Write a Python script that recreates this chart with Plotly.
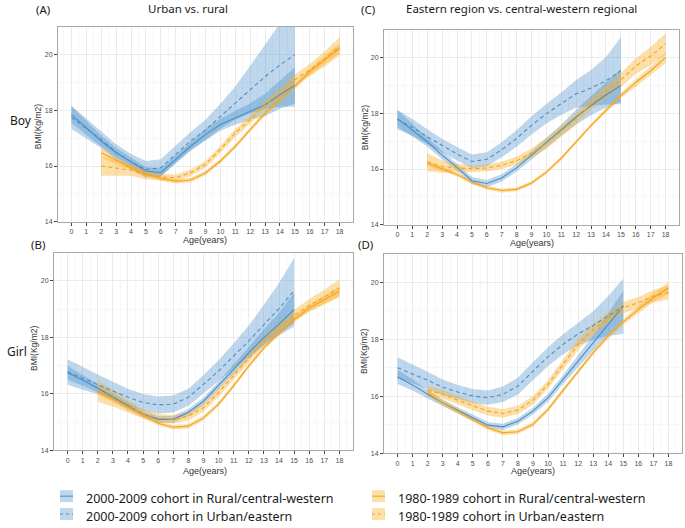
import plotly.graph_objects as go

W, H = 685, 528

ages00 = list(range(0, 16))
ages80 = list(range(2, 19))
x_ticks = list(range(0, 19))
y_ticks = [14, 16, 18, 20]

# Panel A: Boy, urban vs rural
A_rural00 = [17.85, 17.38, 16.9, 16.48, 16.15, 15.82, 15.76, 16.24, 16.71, 17.13, 17.49, 17.73, 17.96, 18.2, 18.56, 18.9]
A_rural00_ci = [0.3, 0.25, 0.2, 0.17, 0.15, 0.15, 0.15, 0.15, 0.17, 0.2, 0.22, 0.25, 0.3, 0.4, 0.5, 0.65]
A_urban00 = [17.75, 17.35, 16.95, 16.5, 16.15, 15.88, 15.94, 16.42, 16.9, 17.3, 17.79, 18.26, 18.74, 19.21, 19.63, 20.0]
A_urban00_ci = [0.42, 0.36, 0.3, 0.28, 0.28, 0.3, 0.3, 0.3, 0.32, 0.36, 0.45, 0.6, 0.85, 1.15, 1.5, 1.87]
A_rural80 = [16.48, 16.2, 15.95, 15.72, 15.55, 15.45, 15.5, 15.75, 16.18, 16.71, 17.31, 17.9, 18.38, 18.86, 19.39, 19.81, 20.23]
A_rural80_ci = [0.18, 0.13, 0.1, 0.08, 0.08, 0.08, 0.08, 0.08, 0.08, 0.08, 0.08, 0.1, 0.1, 0.1, 0.12, 0.15, 0.18]
A_urban80 = [16.0, 15.92, 15.85, 15.68, 15.6, 15.58, 15.76, 16.06, 16.6, 17.19, 17.67, 18.2, 18.62, 19.1, 19.45, 19.85, 20.3]
A_urban80_ci = [0.35, 0.28, 0.2, 0.15, 0.12, 0.12, 0.12, 0.12, 0.13, 0.15, 0.15, 0.15, 0.17, 0.2, 0.22, 0.27, 0.33]

# Panel C: Boy, eastern vs central-western
C_cw00 = [17.81, 17.4, 16.98, 16.5, 16.06, 15.58, 15.48, 15.68, 16.04, 16.5, 16.95, 17.4, 17.87, 18.28, 18.66, 19.0]
C_cw00_ci = [0.3, 0.22, 0.17, 0.15, 0.13, 0.13, 0.13, 0.13, 0.13, 0.15, 0.17, 0.2, 0.27, 0.35, 0.45, 0.6]
C_east00 = [17.78, 17.5, 17.16, 16.84, 16.54, 16.27, 16.35, 16.69, 17.1, 17.57, 17.99, 18.35, 18.7, 18.91, 19.17, 19.53]
C_east00_ci = [0.35, 0.3, 0.27, 0.25, 0.25, 0.25, 0.25, 0.27, 0.3, 0.33, 0.35, 0.4, 0.5, 0.65, 0.85, 1.2]
C_cw80 = [16.21, 16.0, 15.8, 15.53, 15.33, 15.23, 15.27, 15.5, 15.89, 16.39, 16.98, 17.57, 18.11, 18.64, 19.11, 19.53, 20.0]
C_cw80_ci = [0.1, 0.08, 0.07, 0.07, 0.07, 0.07, 0.07, 0.07, 0.07, 0.07, 0.07, 0.08, 0.09, 0.1, 0.12, 0.15, 0.2]
C_east80 = [16.25, 16.09, 16.04, 16.01, 16.04, 16.13, 16.3, 16.57, 16.92, 17.36, 17.81, 18.34, 18.76, 19.2, 19.7, 20.06, 20.5]
C_east80_ci = [0.33, 0.22, 0.15, 0.12, 0.12, 0.13, 0.15, 0.17, 0.2, 0.2, 0.2, 0.2, 0.22, 0.25, 0.28, 0.32, 0.38]

# Panel B: Girl, urban vs rural
B_rural00 = [16.75, 16.49, 16.2, 15.88, 15.58, 15.29, 15.1, 15.1, 15.35, 15.74, 16.29, 16.87, 17.46, 17.99, 18.47, 18.98]
B_rural00_ci = [0.25, 0.2, 0.15, 0.13, 0.12, 0.12, 0.12, 0.12, 0.12, 0.13, 0.15, 0.17, 0.2, 0.3, 0.4, 0.6]
B_urban00 = [16.78, 16.55, 16.34, 16.11, 15.88, 15.7, 15.61, 15.64, 15.88, 16.34, 16.81, 17.34, 17.87, 18.45, 19.02, 19.65]
B_urban00_ci = [0.45, 0.4, 0.35, 0.32, 0.3, 0.3, 0.3, 0.3, 0.3, 0.33, 0.38, 0.45, 0.55, 0.7, 0.9, 1.15]
B_rural80 = [16.11, 15.82, 15.52, 15.23, 14.96, 14.82, 14.86, 15.15, 15.64, 16.29, 16.99, 17.63, 18.16, 18.63, 19.04, 19.33, 19.63]
B_rural80_ci = [0.12, 0.1, 0.08, 0.08, 0.08, 0.08, 0.08, 0.08, 0.08, 0.08, 0.08, 0.08, 0.09, 0.1, 0.12, 0.15, 0.18]
B_urban80 = [16.1, 15.85, 15.55, 15.3, 15.14, 15.1, 15.21, 15.52, 16.05, 16.64, 17.26, 17.87, 18.36, 18.78, 19.13, 19.42, 19.74]
B_urban80_ci = [0.38, 0.3, 0.22, 0.17, 0.15, 0.15, 0.15, 0.15, 0.15, 0.15, 0.15, 0.15, 0.17, 0.2, 0.22, 0.26, 0.32]

# Panel D: Girl, eastern vs central-western
D_cw00 = [16.68, 16.4, 16.07, 15.77, 15.51, 15.25, 14.99, 14.93, 15.13, 15.48, 15.95, 16.59, 17.23, 17.88, 18.52, 19.16]
D_cw00_ci = [0.25, 0.2, 0.15, 0.12, 0.11, 0.11, 0.11, 0.11, 0.11, 0.12, 0.14, 0.16, 0.2, 0.27, 0.38, 0.55]
D_east00 = [17.0, 16.79, 16.56, 16.32, 16.15, 16.01, 15.95, 16.07, 16.36, 16.88, 17.39, 17.82, 18.19, 18.48, 18.81, 19.16]
D_east00_ci = [0.37, 0.33, 0.3, 0.27, 0.25, 0.25, 0.25, 0.27, 0.3, 0.32, 0.33, 0.35, 0.4, 0.5, 0.7, 0.97]
D_cw80 = [16.12, 15.77, 15.48, 15.19, 14.9, 14.72, 14.76, 15.02, 15.54, 16.21, 16.88, 17.53, 18.11, 18.61, 19.04, 19.45, 19.8]
D_cw80_ci = [0.12, 0.1, 0.08, 0.08, 0.08, 0.08, 0.08, 0.08, 0.08, 0.08, 0.08, 0.08, 0.09, 0.1, 0.12, 0.15, 0.2]
D_east80 = [16.22, 16.07, 15.86, 15.66, 15.48, 15.4, 15.52, 15.86, 16.42, 17.12, 17.82, 18.34, 18.75, 19.1, 19.28, 19.51, 19.63]
D_east80_ci = [0.15, 0.15, 0.15, 0.15, 0.15, 0.15, 0.15, 0.15, 0.15, 0.17, 0.2, 0.2, 0.2, 0.2, 0.2, 0.22, 0.25]

legend_labels = [
    "2000-2009 cohort in Rural/central-western",
    "2000-2009 cohort in Urban/eastern",
    "1980-1989 cohort in Rural/central-western",
    "1980-1989 cohort in Urban/eastern",
]
panel_titles = ["Urban vs. rural", "Eastern region vs. central-western regional"]
panel_letters = ["(A)", "(C)", "(B)", "(D)"]
row_labels = ["Boy", "Girl"]

BLUE = "#4A8FC6"
BLUE_FILL = "rgba(70,140,200,0.35)"
ORANGE = "#F5A31A"
ORANGE_FILL = "rgba(250,175,40,0.40)"

FONT_T = "Noto Sans"
FONT_A = "Liberation Sans"

# panel pixel boxes: (left, right, top, bottom)
boxes = {
    "A": (58, 353, 27, 223),
    "C": (384, 679, 30, 226),
    "B": (54, 353, 254, 453),
    "D": (384, 682, 255, 456),
}
axis_ids = {"A": ("x", "y"), "C": ("x2", "y2"), "B": ("x3", "y3"), "D": ("x4", "y4")}

panels = {
    "A": [(ages00, A_rural00, A_rural00_ci, BLUE, BLUE_FILL, "solid"),
          (ages00, A_urban00, A_urban00_ci, BLUE, BLUE_FILL, "dash"),
          (ages80, A_rural80, A_rural80_ci, ORANGE, ORANGE_FILL, "solid"),
          (ages80, A_urban80, A_urban80_ci, ORANGE, ORANGE_FILL, "dash")],
    "C": [(ages00, C_cw00, C_cw00_ci, BLUE, BLUE_FILL, "solid"),
          (ages00, C_east00, C_east00_ci, BLUE, BLUE_FILL, "dash"),
          (ages80, C_cw80, C_cw80_ci, ORANGE, ORANGE_FILL, "solid"),
          (ages80, C_east80, C_east80_ci, ORANGE, ORANGE_FILL, "dash")],
    "B": [(ages00, B_rural00, B_rural00_ci, BLUE, BLUE_FILL, "solid"),
          (ages00, B_urban00, B_urban00_ci, BLUE, BLUE_FILL, "dash"),
          (ages80, B_rural80, B_rural80_ci, ORANGE, ORANGE_FILL, "solid"),
          (ages80, B_urban80, B_urban80_ci, ORANGE, ORANGE_FILL, "dash")],
    "D": [(ages00, D_cw00, D_cw00_ci, BLUE, BLUE_FILL, "solid"),
          (ages00, D_east00, D_east00_ci, BLUE, BLUE_FILL, "dash"),
          (ages80, D_cw80, D_cw80_ci, ORANGE, ORANGE_FILL, "solid"),
          (ages80, D_east80, D_east80_ci, ORANGE, ORANGE_FILL, "dash")],
}

fig = go.Figure()

for key, series in panels.items():
    xa, ya = axis_ids[key]
    for ages, vals, ci, col, fillc, dash in series:
        up = [v + c for v, c in zip(vals, ci)]
        lo = [v - c for v, c in zip(vals, ci)]
        fig.add_trace(go.Scatter(
            x=list(ages) + list(ages)[::-1], y=up + lo[::-1],
            fill="toself", fillcolor=fillc, line=dict(width=0),
            mode="lines", hoverinfo="skip", showlegend=False,
            xaxis=xa, yaxis=ya))
    for ages, vals, ci, col, fillc, dash in series:
        fig.add_trace(go.Scatter(
            x=ages, y=vals, mode="lines",
            line=dict(color=col, width=1.1,
                      dash="4px,3px" if dash == "dash" else "solid"),
            showlegend=False, xaxis=xa, yaxis=ya))


def px_x(p):
    return p / W


def px_y(p):
    return 1 - p / H


layout = dict(
    width=W, height=H, autosize=False,
    margin=dict(l=0, r=0, t=0, b=0),
    paper_bgcolor="white", plot_bgcolor="white",
    showlegend=False,
)

for key, (l, r, t, b) in boxes.items():
    xa, ya = axis_ids[key]
    xname = "xaxis" if xa == "x" else "xaxis" + xa[1:]
    yname = "yaxis" if ya == "y" else "yaxis" + ya[1:]
    layout[xname] = dict(
        domain=[px_x(l), px_x(r)], range=[-0.9, 18.9], anchor=ya,
        tickvals=x_ticks, ticktext=[str(v) for v in x_ticks],
        ticks="outside", ticklen=3, tickcolor="#444", tickwidth=1,
        tickfont=dict(family=FONT_A, size=7, color="#4D4D4D"),
        showgrid=True, gridcolor="#EBEBEB", gridwidth=1,
        minor=dict(tick0=0.5, dtick=1, showgrid=True, gridcolor="#F6F6F6", gridwidth=1),
        showline=True, mirror=True, linecolor="#A8A8A8", linewidth=1,
        zeroline=False, fixedrange=True)
    layout[yname] = dict(
        domain=[px_y(b), px_y(t)], range=[14, 21], anchor=xa,
        tickvals=y_ticks, ticktext=[str(v) for v in y_ticks],
        ticks="outside", ticklen=3, tickcolor="#444", tickwidth=1,
        tickfont=dict(family=FONT_A, size=7, color="#4D4D4D"),
        showgrid=True, gridcolor="#EBEBEB", gridwidth=1,
        minor=dict(tick0=15, dtick=2, showgrid=True, gridcolor="#F6F6F6", gridwidth=1),
        showline=True, mirror=True, linecolor="#A8A8A8", linewidth=1,
        zeroline=False, fixedrange=True)

annotations = []


def ann(text, x, y, size, color="#1A1A1A", family=FONT_T, angle=0, xanchor="center"):
    annotations.append(dict(
        text=text, x=px_x(x), y=px_y(y), xref="paper", yref="paper",
        showarrow=False, xanchor=xanchor, yanchor="middle",
        font=dict(family=family, size=size, color=color), textangle=angle))


# Titles and panel letters
ann(panel_titles[0], 188, 9, 11.5)
ann(panel_titles[1], 521, 9, 11.5)
ann(panel_letters[0], 43, 10, 11.5)
ann(panel_letters[1], 368, 10, 11.5)
ann(panel_letters[2], 38, 246, 11.5)
ann(panel_letters[3], 365, 246, 11.5)
ann(row_labels[0], 21, 121, 12)
ann(row_labels[1], 17, 354, 12)

# Axis titles
for x, y in [(205, 241), (532, 244), (205, 474), (533, 474)]:
    ann("Age(years)", x, y, 9, color="#333333", family=FONT_A)
for x, y in [(38, 127), (365, 128), (34, 350), (364, 353)]:
    ann("BMI(Kg/m2)", x, y, 8.5, color="#333333", family=FONT_A, angle=-90)

# Legend
shapes = []
legend_items = [
    (60, 499, BLUE, BLUE_FILL, "solid", legend_labels[0]),
    (60, 517, BLUE, BLUE_FILL, "dash", legend_labels[1]),
    (372, 499, ORANGE, ORANGE_FILL, "solid", legend_labels[2]),
    (372, 517, ORANGE, ORANGE_FILL, "dash", legend_labels[3]),
]
for lx, ly, col, fillc, dash, label in legend_items:
    shapes.append(dict(type="rect", xref="paper", yref="paper",
                       x0=px_x(lx), x1=px_x(lx + 13), y0=px_y(ly + 6), y1=px_y(ly - 6),
                       fillcolor=fillc, line=dict(width=0), layer="above"))
    shapes.append(dict(type="line", xref="paper", yref="paper",
                       x0=px_x(lx), x1=px_x(lx + 13), y0=px_y(ly), y1=px_y(ly),
                       line=dict(color=col, width=1,
                                 dash="3px,3px" if dash == "dash" else "solid"),
                       layer="above"))
    ann(label, lx + 24, ly + 2, 12.5, color="#1A1A1A", xanchor="left")

layout["annotations"] = annotations
layout["shapes"] = shapes
fig.update_layout(**layout)

fig.write_html("out.html", config={"displayModeBar": False},
               post_script="document.body.style.margin='0px';")
